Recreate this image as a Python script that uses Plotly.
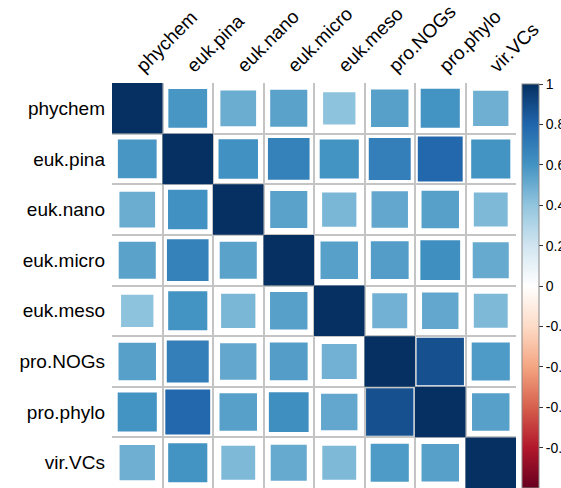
import numpy as np
import plotly.graph_objects as go

labels = ["phychem", "euk.pina", "euk.nano", "euk.micro", "euk.meso", "pro.NOGs", "pro.phylo", "vir.VCs"]

r_phychem = [1.00, 0.59, 0.50, 0.54, 0.41, 0.55, 0.60, 0.49]
r_euk_pina = [0.59, 1.00, 0.61, 0.68, 0.60, 0.69, 0.79, 0.60]
r_euk_nano = [0.50, 0.61, 1.00, 0.54, 0.46, 0.52, 0.55, 0.45]
r_euk_micro = [0.54, 0.68, 0.54, 1.00, 0.55, 0.56, 0.62, 0.51]
r_euk_meso = [0.41, 0.60, 0.46, 0.55, 1.00, 0.48, 0.52, 0.45]
r_pro_nogs = [0.55, 0.69, 0.52, 0.56, 0.48, 1.00, 0.88, 0.57]
r_pro_phylo = [0.60, 0.79, 0.55, 0.62, 0.52, 0.88, 1.00, 0.55]
r_vir_vcs = [0.49, 0.60, 0.45, 0.51, 0.45, 0.57, 0.55, 1.00]

cbar_vals = [1, 0.8, 0.6, 0.4, 0.2, 0, -0.2, -0.4, -0.6, -0.8, -1]
cbar_text = ["1", "0.8", "0.6", "0.4", "0.2", "0", "-0.2", "-0.4", "-0.6", "-0.8", "-1"]

rdbu = ["#67001F", "#B2182B", "#D6604D", "#F4A582", "#FDDBC7", "#FFFFFF",
        "#D1E5F0", "#92C5DE", "#4393C3", "#2166AC", "#053061"]
colorscale = [[i / 10, c] for i, c in enumerate(rdbu)]

M = np.array([r_phychem, r_euk_pina, r_euk_nano, r_euk_micro, r_euk_meso,
              r_pro_nogs, r_pro_phylo, r_vir_vcs])
n = len(labels)

W, H = 561, 488
ml, mr, mt, mb = 112, 45, 83, 0
plot_w = W - ml - mr
cell = plot_w / n

xs, ys, vals = [], [], []
for i in range(n):
    for j in range(n):
        xs.append(j)
        ys.append(i)
        vals.append(M[i, j])
vals = np.array(vals)
sizes = np.sqrt(np.abs(vals)) * cell

fig = go.Figure()
fig.add_trace(go.Scatter(
    x=xs, y=ys, mode="markers",
    marker=dict(
        symbol="square", size=sizes, color=vals, opacity=1,
        colorscale=colorscale, cmin=-1, cmax=1,
        line=dict(width=0),
        colorbar=dict(
            thickness=17, lenmode="pixels", len=404,
            x=1.015, xanchor="left", xpad=0,
            y=1 - 1 / 405, yanchor="top", ypad=0,
            outlinewidth=1, outlinecolor="#888888",
            tickmode="array", tickvals=cbar_vals, ticktext=cbar_text,
            ticks="outside", ticklen=4, tickcolor="#333333",
            tickfont=dict(family="Liberation Sans, Arial, sans-serif", size=14, color="#000000"),
        ),
    ),
    hoverinfo="skip",
    showlegend=False,
))

grid_pos = [k - 0.5 for k in range(n + 1)]
font_lbl = dict(family="Liberation Sans, Arial, sans-serif", size=19, color="#000000")

fig.update_layout(
    width=W, height=H,
    margin=dict(l=ml, r=mr, t=mt, b=mb, autoexpand=False),
    paper_bgcolor="white", plot_bgcolor="white",
    xaxis=dict(
        range=[-0.5, n - 0.5], side="top", automargin=False,
        tickmode="array", tickvals=list(range(n)), ticktext=labels,
        tickangle=-45, tickfont=font_lbl, ticks="", ticklen=0,
        ticklabelstandoff=2,
        showgrid=False, zeroline=False, showline=False,
        minor=dict(tickmode="array", tickvals=grid_pos, showgrid=True,
                   gridcolor="#c4c4c4", gridwidth=1.5, ticks=""),
        fixedrange=True,
    ),
    yaxis=dict(
        range=[n - 0.5, -0.5], automargin=False,
        tickmode="array", tickvals=list(range(n)), ticktext=labels,
        tickfont=font_lbl, ticks="", ticklen=0,
        ticklabelstandoff=6,
        showgrid=False, zeroline=False, showline=False,
        minor=dict(tickmode="array", tickvals=grid_pos, showgrid=True,
                   gridcolor="#c4c4c4", gridwidth=1.5, ticks=""),
        fixedrange=True,
    ),
)

fig.write_html(
    "out.html",
    config={"displayModeBar": False},
    post_script="document.body.style.margin='0';document.body.style.padding='0';document.body.style.overflow='hidden';",
)
